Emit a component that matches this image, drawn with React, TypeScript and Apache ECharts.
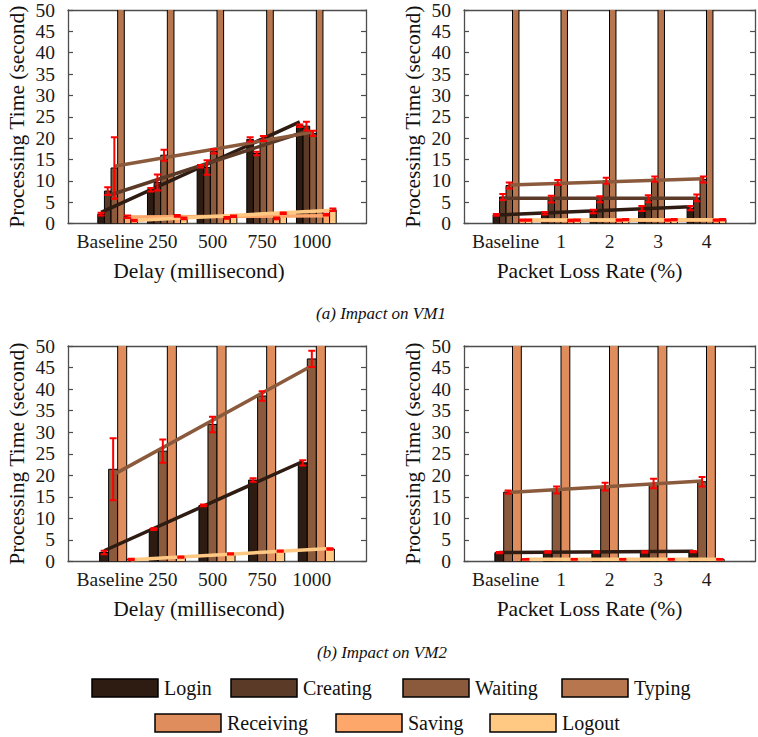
import React, { useEffect, useRef } from 'react';
import * as echarts from 'echarts';

const FONT = '"Liberation Serif", "Times New Roman", serif';

const delayCats = ['Baseline', '250', '500', '750', '1000'];
const plrCats = ['Baseline', '1', '2', '3', '4'];

const legendNames = ['Login', 'Creating', 'Waiting', 'Typing', 'Receiving', 'Saving', 'Logout'];
const legendColors = ['#2e1b12', '#5b3a28', '#8b5a3c', '#b8764f', '#e08d5e', '#fda76b', '#ffc883'];

const vm1Names = ['Login', 'Creating', 'Waiting', 'Typing', 'Saving', 'Logout'];
const vm2Names = ['Login', 'Waiting', 'Receiving', 'Logout'];

// ---- VM1, delay ----
const vm1DelayLogin = [2.2, 7.9, 13.4, 19.7, 22.9];
const vm1DelayCreating = [7.6, 9.6, 13.1, 16.4, 22.8];
const vm1DelayWaiting = [13.0, 16.0, 16.9, 19.9, 21.1];
const vm1DelayTyping = [96, 104, 112, 118, 126];
const vm1DelaySaving = [1.6, 1.8, 1.3, 1.2, 2.1];
const vm1DelayLogout = [0.7, 1.2, 1.7, 2.4, 3.2];
const vm1DelayLoginErr = [0.3, 0.4, 0.3, 0.5, 0.3];
const vm1DelayCreatingErr = [0.9, 1.9, 1.7, 0.4, 1.0];
const vm1DelayWaitingErr = [7.2, 1.3, 0.5, 0.6, 0.6];
const vm1DelaySavingErr = [0.3, 0.2, 0.2, 0.2, 0.2];
const vm1DelayLogoutErr = [0.2, 0.2, 0.2, 0.2, 0.3];
const vm1DelayTrendStart = [2.6, 6.5, 13.4, null, 1.5, 0.7];
const vm1DelayTrendEnd = [23.8, 21.6, 21.4, null, 1.8, 3.1];

// ---- VM1, packet loss ----
const vm1PlrLogin = [2.0, 2.4, 2.8, 3.5, 3.6];
const vm1PlrCreating = [6.2, 5.7, 5.7, 5.8, 6.0];
const vm1PlrWaiting = [8.9, 9.6, 10.0, 10.4, 10.3];
const vm1PlrTyping = [92, 95, 99, 101, 104];
const vm1PlrSaving = [0.8, 0.7, 0.8, 0.8, 0.8];
const vm1PlrLogout = [0.8, 0.8, 0.9, 0.9, 0.9];
const vm1PlrLoginErr = [0.2, 0.3, 0.4, 0.6, 0.5];
const vm1PlrCreatingErr = [0.7, 0.8, 0.7, 0.8, 0.8];
const vm1PlrWaitingErr = [0.7, 0.6, 0.7, 0.6, 0.7];
const vm1PlrSavingErr = [0.15, 0.15, 0.15, 0.15, 0.15];
const vm1PlrLogoutErr = [0.15, 0.15, 0.15, 0.15, 0.15];
const vm1PlrTrendStart = [2.0, 5.9, 9.0, null, 0.7, 0.8];
const vm1PlrTrendEnd = [3.9, 5.9, 10.5, null, 0.8, 0.9];

// ---- VM2, delay ----
const vm2DelayLogin = [2.1, 7.5, 13.0, 18.9, 22.9];
const vm2DelayWaiting = [21.4, 25.6, 31.8, 38.4, 47.0];
const vm2DelayReceiving = [110, 118, 125, 131, 140];
const vm2DelayLogout = [0.5, 1.0, 1.75, 2.4, 2.9];
const vm2DelayLoginErr = [0.4, 0.2, 0.2, 0.4, 0.6];
const vm2DelayWaitingErr = [7.2, 2.7, 1.8, 1.1, 1.9];
const vm2DelayLogoutErr = [0.15, 0.15, 0.15, 0.15, 0.2];
const vm2DelayTrendStart = [2.5, 20.1, null, 0.4];
const vm2DelayTrendEnd = [23.2, 45.4, null, 3.0];

// ---- VM2, packet loss ----
const vm2PlrLogin = [2.05, 2.2, 2.2, 2.2, 2.3];
const vm2PlrWaiting = [16.1, 16.6, 17.4, 18.1, 18.5];
const vm2PlrReceiving = [105, 108, 112, 115, 119];
const vm2PlrLogout = [0.5, 0.5, 0.5, 0.5, 0.5];
const vm2PlrLoginErr = [0.15, 0.15, 0.15, 0.15, 0.15];
const vm2PlrWaitingErr = [0.4, 0.8, 0.9, 1.1, 1.1];
const vm2PlrLogoutErr = [0.1, 0.1, 0.1, 0.1, 0.1];
const vm2PlrTrendStart = [2.1, 16.0, null, 0.5];
const vm2PlrTrendEnd = [2.4, 18.7, null, 0.5];

const yTicks = { min: 0, max: 50, interval: 5 };
const yTitle = 'Processing Time (second)';

type Panel = {
  cats: string[];
  xName: string;
  names: string[];
  values: number[][];
  errors: (number[] | null)[];
  trendStart: (number | null)[];
  trendEnd: (number | null)[];
  grid: { left: number; top: number; width: number; height: number };
  xNameShift: number;
  labelShift: number;
  baseShift: number;
};

const panels: Panel[] = [
  {
    cats: delayCats, xName: 'Delay (millisecond)', names: vm1Names,
    values: [vm1DelayLogin, vm1DelayCreating, vm1DelayWaiting, vm1DelayTyping, vm1DelaySaving, vm1DelayLogout],
    errors: [vm1DelayLoginErr, vm1DelayCreatingErr, vm1DelayWaitingErr, null, vm1DelaySavingErr, vm1DelayLogoutErr],
    trendStart: vm1DelayTrendStart, trendEnd: vm1DelayTrendEnd,
    grid: { left: 68, top: 7.5, width: 298, height: 216 }, xNameShift: 36, labelShift: 9, baseShift: 6,
  },
  {
    cats: plrCats, xName: 'Packet Loss Rate (%)', names: vm1Names,
    values: [vm1PlrLogin, vm1PlrCreating, vm1PlrWaiting, vm1PlrTyping, vm1PlrSaving, vm1PlrLogout],
    errors: [vm1PlrLoginErr, vm1PlrCreatingErr, vm1PlrWaitingErr, null, vm1PlrSavingErr, vm1PlrLogoutErr],
    trendStart: vm1PlrTrendStart, trendEnd: vm1PlrTrendEnd,
    grid: { left: 464, top: 7.5, width: 298, height: 216 }, xNameShift: 40, labelShift: 0, baseShift: 14,
  },
  {
    cats: delayCats, xName: 'Delay (millisecond)', names: vm2Names,
    values: [vm2DelayLogin, vm2DelayWaiting, vm2DelayReceiving, vm2DelayLogout],
    errors: [vm2DelayLoginErr, vm2DelayWaitingErr, null, vm2DelayLogoutErr],
    trendStart: vm2DelayTrendStart, trendEnd: vm2DelayTrendEnd,
    grid: { left: 68, top: 346, width: 298, height: 215.5 }, xNameShift: 36, labelShift: 9, baseShift: 6,
  },
  {
    cats: plrCats, xName: 'Packet Loss Rate (%)', names: vm2Names,
    values: [vm2PlrLogin, vm2PlrWaiting, vm2PlrReceiving, vm2PlrLogout],
    errors: [vm2PlrLoginErr, vm2PlrWaitingErr, null, vm2PlrLogoutErr],
    trendStart: vm2PlrTrendStart, trendEnd: vm2PlrTrendEnd,
    grid: { left: 464, top: 346, width: 298, height: 215.5 }, xNameShift: 40, labelShift: 0, baseShift: 14,
  },
];

const colorOf = (name: string) => legendColors[legendNames.indexOf(name)];
const AXIS = '#4d4d4d';

function buildOption() {
  const grids: any[] = [];
  const xAxes: any[] = [];
  const yAxes: any[] = [];
  const series: any[] = [];

  panels.forEach((p) => {
    grids.push({ ...p.grid, containLabel: false });
  });
  panels.forEach((p, c) => {
    xAxes.push({
      type: 'value', gridIndex: c, min: -1, max: 5, interval: 1,
      axisLine: { show: true, onZero: false, lineStyle: { color: AXIS, width: 1.3 } },
      axisTick: { show: false }, splitLine: { show: false },
      axisLabel: {
        formatter: (v: number) => {
          const s = p.cats[v];
          if (s === undefined) return '';
          return v === 0 ? '{base|' + s + '}' : s;
        },
        rich: { base: { fontFamily: FONT, fontSize: 19.5, color: '#1a1a1a', padding: [0, p.baseShift, 0, 0] } },
        fontFamily: FONT, fontSize: 19.5, color: '#1a1a1a', margin: 8,
        padding: [0, p.labelShift, 0, 0],
      },
      name: p.xName, nameLocation: 'middle', nameGap: 36,
      nameTextStyle: { fontFamily: FONT, fontSize: 21.5, color: '#111', padding: [0, p.xNameShift, 0, 0] },
    });
  });
  panels.forEach((p, c) => {
    xAxes.push({
      type: 'value', gridIndex: c, position: 'top', min: -1, max: 5, interval: 1,
      axisLine: { show: true, onZero: false, lineStyle: { color: AXIS, width: 1.3 } },
      axisTick: { show: false }, axisLabel: { show: false }, splitLine: { show: false },
    });
  });
  panels.forEach((p, c) => {
    yAxes.push({
      type: 'value', gridIndex: c, ...yTicks,
      axisLine: { show: true, onZero: false, lineStyle: { color: AXIS, width: 1.3 } },
      axisTick: { show: true, inside: true, length: 5, lineStyle: { color: AXIS, width: 1.2 } },
      axisLabel: { fontFamily: FONT, fontSize: 19.5, color: '#1a1a1a', margin: 13 },
      splitLine: { show: false },
      name: yTitle, nameLocation: 'middle', nameGap: 40, nameRotate: 90,
      nameTextStyle: { fontFamily: FONT, fontSize: 21.5, color: '#111' },
    });
  });
  panels.forEach((p, c) => {
    yAxes.push({
      type: 'value', gridIndex: c, position: 'right', ...yTicks,
      axisLine: { show: true, onZero: false, lineStyle: { color: AXIS, width: 1.3 } },
      axisTick: { show: true, inside: true, length: 5, lineStyle: { color: AXIS, width: 1.2 } },
      axisLabel: { show: false }, splitLine: { show: false },
    });
  });

  panels.forEach((p, c) => {
    const n = p.names.length;
    const gw = Math.min(0.8, n / (n + 1.5));
    const bw = gw / n;
    p.names.forEach((name, j) => {
      const off = -gw / 2 + bw * (j + 0.5);
      const color = colorOf(name);
      series.push({
        type: 'custom', name, xAxisIndex: c, yAxisIndex: c, clip: true, z: 2,
        encode: { x: 0, y: 1 }, silent: true,
        data: p.values[j].map((v, k) => [k, v]),
        renderItem: (params: any, api: any) => {
          const k = api.value(0);
          const v = api.value(1);
          const a = api.coord([k + off - bw / 2, v]);
          const b = api.coord([k + off + bw / 2, 0]);
          return {
            type: 'rect',
            shape: { x: a[0], y: a[1], width: b[0] - a[0], height: b[1] - a[1] },
            style: { fill: color, stroke: '#000', lineWidth: 1 },
          };
        },
      });
    });
    p.names.forEach((name, j) => {
      const s = p.trendStart[j];
      const e = p.trendEnd[j];
      if (s === null || e === null) return;
      const off = -gw / 2 + bw * (j + 0.5);
      series.push({
        type: 'line', name: name + ' trend', xAxisIndex: c, yAxisIndex: c, z: 3,
        symbol: 'none', silent: true,
        lineStyle: { color: colorOf(name), width: 3.5 },
        data: [[0 + off, s], [p.cats.length - 1 + off, e]],
      });
    });
    p.names.forEach((name, j) => {
      const err = p.errors[j];
      if (!err) return;
      const off = -gw / 2 + bw * (j + 0.5);
      series.push({
        type: 'custom', name: name + ' error', xAxisIndex: c, yAxisIndex: c, clip: true, z: 4,
        encode: { x: 0, y: 1 }, silent: true,
        data: p.values[j].map((v, k) => [k, v, err[k]]),
        renderItem: (params: any, api: any) => {
          const k = api.value(0);
          const m = api.value(1);
          const e = api.value(2);
          const t = api.coord([k + off, m + e]);
          const b = api.coord([k + off, m - e]);
          const h = 3.5;
          const st = { stroke: '#ff0000', lineWidth: 2 };
          return {
            type: 'group',
            children: [
              { type: 'line', shape: { x1: t[0], y1: t[1], x2: b[0], y2: b[1] }, style: st },
              { type: 'line', shape: { x1: t[0] - h, y1: t[1], x2: t[0] + h, y2: t[1] }, style: st },
              { type: 'line', shape: { x1: b[0] - h, y1: b[1], x2: b[0] + h, y2: b[1] }, style: st },
            ],
          };
        },
      });
    });
  });

  const legendRow1 = [
    { name: 'Login', x: 92 }, { name: 'Creating', x: 231 }, { name: 'Waiting', x: 403 }, { name: 'Typing', x: 562 },
  ];
  const legendRow2 = [
    { name: 'Receiving', x: 155 }, { name: 'Saving', x: 336 }, { name: 'Logout', x: 490 },
  ];
  const graphics: any[] = [];
  const addLegend = (items: { name: string; x: number }[], y: number) => {
    items.forEach((it) => {
      graphics.push({
        type: 'rect', x: it.x, y: y - 9,
        shape: { x: 0, y: 0, width: 66, height: 18 },
        style: { fill: colorOf(it.name), stroke: '#000', lineWidth: 1.5 },
      });
      graphics.push({
        type: 'text', x: it.x + 72, y: y,
        style: { text: it.name, fontFamily: FONT, fontSize: 20, fill: '#111', align: 'left', verticalAlign: 'middle' },
      });
    });
  };
  addLegend(legendRow1, 688);
  addLegend(legendRow2, 723);
  graphics.push({
    type: 'text', x: 381, y: 313,
    style: { text: '(a) Impact on VM1', fontFamily: FONT, fontStyle: 'italic', fontSize: 17, fill: '#111', align: 'center', verticalAlign: 'middle' },
  });
  graphics.push({
    type: 'text', x: 382, y: 652,
    style: { text: '(b) Impact on VM2', fontFamily: FONT, fontStyle: 'italic', fontSize: 17, fill: '#111', align: 'center', verticalAlign: 'middle' },
  });

  return {
    animation: false,
    backgroundColor: '#ffffff',
    textStyle: { fontFamily: FONT },
    grid: grids,
    xAxis: xAxes,
    yAxis: yAxes,
    series,
    graphic: graphics,
  };
}

export default function App() {
  const ref = useRef<HTMLDivElement>(null);
  useEffect(() => {
    if (!ref.current) return;
    const chart = echarts.init(ref.current, undefined, { renderer: 'svg' });
    chart.setOption(buildOption() as any);
    return () => chart.dispose();
  }, []);
  return (
    <div
      ref={ref}
      style={{ position: 'fixed', left: 0, top: 0, width: 758, height: 737, background: '#fff' }}
    />
  );
}
